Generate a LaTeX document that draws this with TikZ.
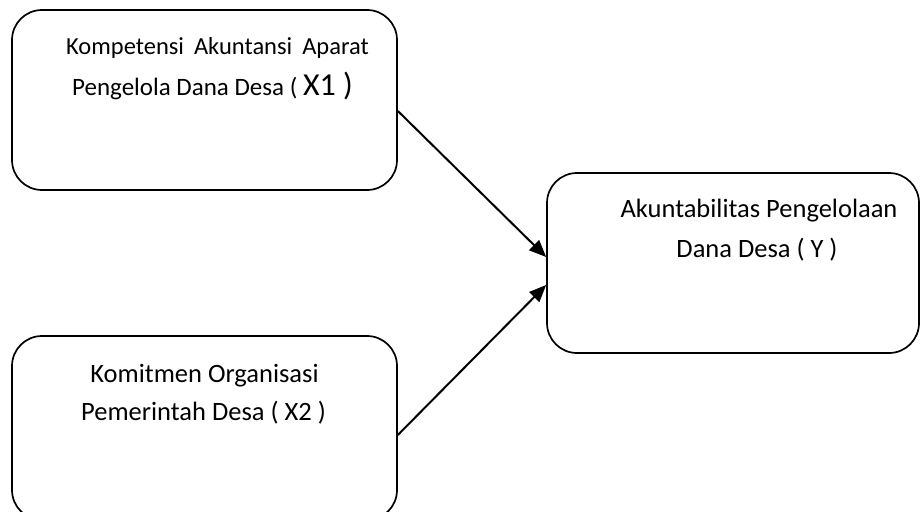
\documentclass[tikz,border=0pt]{standalone}
\usepackage{fontspec}
\setmainfont{Carlito}
\usetikzlibrary{arrows.meta}
\begin{document}
\begin{tikzpicture}[x=1pt,y=-1pt,
  boxnode/.style={draw=black,line width=1.7pt,rounded corners=30pt,inner sep=0pt},
  txt/.style={anchor=base,inner sep=0pt,font=\fontsize{26.5}{30}\selectfont},
  arr/.style={line width=2pt,-{Triangle[length=17pt,width=14pt]}}]
\useasboundingbox (0,0) rectangle (920,511);
\clip (0,0) rectangle (920,511);
\node[boxnode,minimum width=385pt,minimum height=180pt] (x1) at (204.5,100) {};
\node[boxnode,minimum width=372pt,minimum height=180pt] (y) at (733,263) {};
\node[boxnode,minimum width=385pt,minimum height=184pt] (x2) at (204.5,428) {};
\node[txt,font=\fontsize{24.5}{30}\selectfont] (x1a) at (217.5,55) {Kompetensi\hspace{10pt}Akuntansi\hspace{10pt}Aparat};
\node[txt,font=\fontsize{25}{30}\selectfont] (x1b) at (212.5,95) {Pengelola Dana Desa ( {\fontsize{32}{36}\selectfont X1 )}};
\node[txt] (ya) at (759,217) {Akuntabilitas Pengelolaan};
\node[txt] (yb) at (757,257) {Dana Desa ( Y )};
\node[txt] (x2a) at (204.5,382) {Komitmen Organisasi};
\node[txt] (x2b) at (203.5,420) {Pemerintah Desa ( X2 )};
\draw[arr] ([yshift=-11pt]x1.east) -- ([yshift=6pt]y.west);
\draw[arr] ([yshift=-7pt]x2.east) -- ([yshift=-22pt]y.west);
\end{tikzpicture}
\end{document}
